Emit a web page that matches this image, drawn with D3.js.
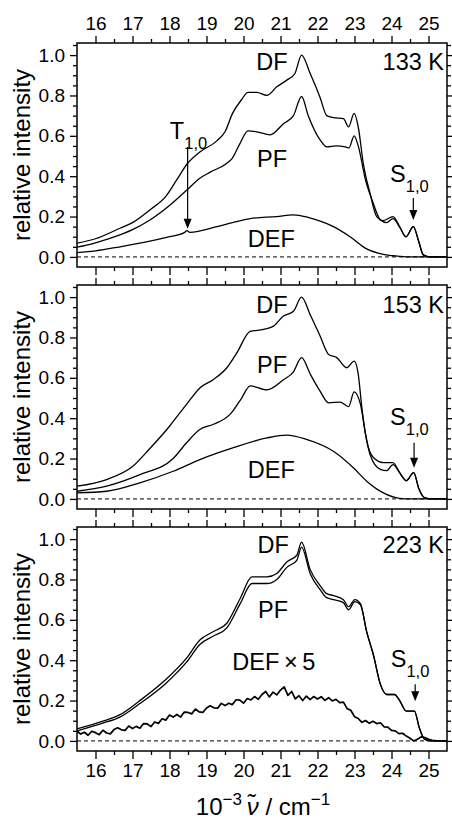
<!DOCTYPE html>
<html><head><meta charset="utf-8">
<script src="https://cdn.jsdelivr.net/npm/d3@7"></script>
<style>
body{margin:0;background:#fff;}
svg{display:block;font-family:"Liberation Sans",Arial,sans-serif;}
</style></head>
<body><svg id="c" width="452" height="822"></svg>
<script>
// ---------- data ----------
const xTicks = [16,17,18,19,20,21,22,23,24,25];
const yTicks = [0,0.2,0.4,0.6,0.8,1.0];
const temps = ["133 K","153 K","223 K"];

const df133 = [[15.5,0.068],[16.0,0.09],[16.66,0.142],[17.0,0.17],[17.47,0.233],[17.9,0.30],[18.19,0.38],[18.49,0.464],[18.82,0.52],[19.28,0.575],[19.5,0.62],[19.7,0.71],[19.95,0.78],[20.12,0.815],[20.36,0.815],[20.63,0.80],[20.9,0.843],[21.17,0.876],[21.39,0.909],[21.57,1.0],[21.8,0.91],[22.07,0.79],[22.25,0.70],[22.43,0.69],[22.7,0.685],[22.84,0.645],[22.99,0.711],[23.1,0.645],[23.24,0.46],[23.42,0.315],[23.6,0.2],[23.78,0.18],[24.04,0.2],[24.22,0.15],[24.39,0.1],[24.59,0.15],[24.73,0.08],[24.86,0.01],[25.04,0.0],[25.5,0.0]];
const pf133 = [[15.5,0.048],[16.0,0.07],[16.66,0.109],[17.0,0.135],[17.47,0.183],[18.0,0.255],[18.46,0.33],[18.82,0.39],[19.1,0.42],[19.55,0.464],[19.7,0.49],[19.9,0.56],[20.12,0.625],[20.36,0.62],[20.72,0.605],[21.08,0.66],[21.35,0.70],[21.57,0.795],[21.75,0.70],[22.07,0.58],[22.25,0.545],[22.5,0.55],[22.75,0.545],[22.85,0.54],[22.99,0.60],[23.1,0.55],[23.3,0.38],[23.48,0.28],[23.7,0.183],[23.87,0.17],[24.04,0.19],[24.22,0.148],[24.39,0.1],[24.59,0.15],[24.73,0.08],[24.86,0.01],[25.04,0],[25.5,0]];
const def133 = [[15.5,0.021],[16.0,0.03],[16.66,0.05],[17.47,0.078],[18.0,0.1],[18.4,0.12],[18.47,0.13],[18.55,0.122],[19.28,0.15],[19.7,0.17],[20.18,0.19],[20.9,0.2],[21.35,0.208],[21.7,0.198],[21.97,0.183],[22.43,0.15],[22.88,0.1],[23.33,0.04],[23.78,0.013],[24.22,0.003],[24.5,0],[25.5,0]];

const df153 = [[15.5,0.063],[16.3,0.096],[17.0,0.16],[17.47,0.25],[18.0,0.36],[18.19,0.405],[18.46,0.468],[18.82,0.55],[19.19,0.592],[19.55,0.65],[19.82,0.724],[20.18,0.83],[20.54,0.84],[20.81,0.856],[21.08,0.906],[21.35,0.93],[21.57,1.0],[21.8,0.914],[22.07,0.807],[22.3,0.716],[22.52,0.70],[22.79,0.65],[22.99,0.683],[23.1,0.62],[23.2,0.45],[23.33,0.287],[23.51,0.205],[23.78,0.18],[24.04,0.18],[24.22,0.13],[24.4,0.09],[24.6,0.13],[24.74,0.05],[24.9,0.005],[25.1,0],[25.5,0]];
const pf153 = [[15.5,0.038],[16.3,0.063],[17.2,0.12],[18.1,0.2],[18.46,0.278],[18.82,0.344],[19.19,0.37],[19.64,0.42],[19.73,0.44],[19.95,0.50],[20.18,0.56],[20.63,0.54],[21.08,0.59],[21.35,0.63],[21.57,0.70],[21.8,0.62],[22.07,0.534],[22.3,0.476],[22.61,0.48],[22.84,0.457],[22.99,0.53],[23.16,0.47],[23.3,0.32],[23.42,0.22],[23.7,0.146],[23.87,0.14],[24.04,0.17],[24.22,0.13],[24.4,0.09],[24.6,0.13],[24.74,0.05],[24.9,0.005],[25.1,0],[25.5,0]];
const def153 = [[15.5,0.03],[16.3,0.038],[17.2,0.08],[18.1,0.137],[18.82,0.195],[19.73,0.254],[20.63,0.302],[21.17,0.316],[21.7,0.295],[22.43,0.236],[22.97,0.154],[23.33,0.088],[23.78,0.03],[24.22,0.003],[24.5,0],[25.5,0]];

const df223 = [[15.5,0.06],[16.2,0.098],[16.66,0.13],[17.2,0.2],[17.9,0.304],[18.46,0.41],[18.82,0.5],[19.19,0.542],[19.55,0.583],[19.91,0.706],[20.23,0.813],[20.63,0.813],[20.9,0.83],[21.17,0.887],[21.44,0.92],[21.57,0.985],[21.8,0.85],[22.07,0.77],[22.25,0.73],[22.43,0.72],[22.7,0.70],[22.84,0.665],[23.01,0.70],[23.16,0.68],[23.33,0.54],[23.51,0.427],[23.7,0.28],[23.87,0.23],[24.08,0.23],[24.22,0.2],[24.4,0.148],[24.62,0.148],[24.75,0.066],[24.9,0.008],[25.1,0],[25.5,0]];
const pf223 = [[15.5,0.05],[16.2,0.088],[16.66,0.118],[17.2,0.185],[17.9,0.285],[18.46,0.39],[18.82,0.478],[19.19,0.52],[19.55,0.56],[19.91,0.68],[20.23,0.78],[20.63,0.78],[20.9,0.80],[21.17,0.86],[21.44,0.895],[21.57,0.96],[21.8,0.83],[22.07,0.75],[22.25,0.71],[22.43,0.70],[22.7,0.685],[22.84,0.65],[23.01,0.69],[23.16,0.675],[23.33,0.54],[23.51,0.427],[23.7,0.28],[23.87,0.23],[24.08,0.23],[24.22,0.2],[24.4,0.148],[24.62,0.148],[24.75,0.066],[24.9,0.008],[25.1,0],[25.5,0]];
const def223x5V = [15.5,15.6,15.7,15.8,15.9,16.0,16.1,16.2,16.3,16.4,16.5,16.6,16.7,16.8,16.9,17.0,17.1,17.2,17.3,17.4,17.5,17.6,17.7,17.8,17.9,18.0,18.1,18.2,18.3,18.4,18.5,18.6,18.7,18.8,18.9,19.0,19.1,19.2,19.3,19.4,19.5,19.6,19.7,19.8,19.9,20.0,20.1,20.2,20.3,20.4,20.5,20.6,20.7,20.8,20.9,21.0,21.1,21.2,21.3,21.4,21.5,21.6,21.7,21.8,21.9,22.0,22.1,22.2,22.3,22.4,22.5,22.6,22.7,22.8,22.9,23.0,23.1,23.2,23.3,23.4,23.5,23.6,23.7,23.8,23.9,24.0,24.1,24.2,24.3,24.4,24.5,24.6,24.7,24.8,24.9,25.0,25.1,25.2,25.3,25.4,25.5];
const def223x5 = [0.048,0.034,0.043,0.028,0.048,0.041,0.031,0.053,0.039,0.035,0.056,0.065,0.055,0.052,0.074,0.061,0.072,0.063,0.086,0.084,0.071,0.094,0.087,0.110,0.103,0.128,0.118,0.131,0.118,0.143,0.141,0.134,0.158,0.144,0.141,0.163,0.174,0.164,0.162,0.186,0.175,0.187,0.180,0.204,0.202,0.187,0.210,0.203,0.220,0.206,0.230,0.245,0.218,0.242,0.228,0.252,0.268,0.226,0.245,0.208,0.224,0.200,0.222,0.205,0.220,0.208,0.219,0.201,0.214,0.198,0.206,0.190,0.192,0.160,0.152,0.120,0.111,0.092,0.101,0.087,0.097,0.086,0.090,0.070,0.068,0.052,0.050,0.036,0.038,0.024,0.013,0.000,0.008,0.020,0.017,0.008,0.003,0.001,0,0,0];

// labels: [text, v, value, anchor]
const labels133 = [["DF",20.77,0.926,"middle"],["PF",20.77,0.447,"middle"],["DEF",20.75,0.051,"middle"]];
const labels153 = [["DF",20.77,0.92,"middle"],["PF",20.77,0.622,"middle"],["DEF",20.75,0.102,"middle"]];
const labels223 = [["DF",20.8,0.93,"middle"],["PF",20.8,0.607,"middle"],["DEF\u2009\u00d7\u20095",20.82,0.351,"middle"]];
// subscripted labels: [main, sub, v, value]
const subLabels133 = [["T","1,0",18.01,0.584],["S","1,0",23.96,0.373]];
const subLabels153 = [["S","1,0",23.96,0.366]];
const subLabels223 = [["S","1,0",23.98,0.368]];
// arrows: [v, fromValue, toValue]
const arrows133 = [[18.49,0.545,0.14],[24.59,0.292,0.183]];
const arrows153 = [[24.61,0.278,0.154]];
const arrows223 = [[24.64,0.281,0.197]];

// ---------- layout ----------
const svg = d3.select("#c");
const L = 77, R = 447, H = 224;
const panelTops = [43, 285, 527];
const x = d3.scaleLinear().domain([15.5,25.5]).range([L,R]);
const xMinor = d3.range(15.5,25.51,0.5).filter(v=>Math.abs(v-Math.round(v))>0.01 && v>15.6 && v<25.4);
const yMinor = d3.range(0,1.051,0.05).filter(v=>Math.abs(v*5-Math.round(v*5))>0.01);
const FS_TICK = 19, FS_LAB = 23.5, FS_SUB = 16.5;

const panels = [
  {series:[df133,pf133,def133], labels:labels133, subs:subLabels133, arrows:arrows133},
  {series:[df153,pf153,def153], labels:labels153, subs:subLabels153, arrows:arrows153},
  {series:[df223,pf223,def223x5V.map((v,i)=>[v,def223x5[i]])], labels:labels223, subs:subLabels223, arrows:arrows223, noisy:true}
];

panels.forEach((p,i)=>{
  const top = panelTops[i], bot = top+H;
  const y = d3.scaleLinear().domain([-0.05,1.06]).range([bot,top]);
  const g = svg.append("g");
  const clipId = "clip"+i;
  svg.append("clipPath").attr("id",clipId).append("rect").attr("x",L).attr("y",top).attr("width",R-L).attr("height",H);

  // zero line
  g.append("line").attr("x1",L).attr("x2",R).attr("y1",y(0)).attr("y2",y(0))
    .attr("stroke","#000").attr("stroke-width",1).attr("stroke-dasharray","4,3");

  // curves
  const line = d3.line().x(d=>x(d[0])).y(d=>y(d[1])).curve(d3.curveMonotoneX);
  const lineLin = d3.line().x(d=>x(d[0])).y(d=>y(d[1]));
  p.series.forEach((s,k)=>{
    const noisy = p.noisy && k===2;
    g.append("path").attr("clip-path",`url(#${clipId})`).attr("d",noisy?lineLin(s):line(s))
      .attr("fill","none").attr("stroke","#000").attr("stroke-width",noisy?1.7:1.3)
      .attr("stroke-linejoin","round");
  });

  // frame
  g.append("rect").attr("x",L).attr("y",top).attr("width",R-L).attr("height",H)
    .attr("fill","none").attr("stroke","#000").attr("stroke-width",1.5);

  // axes
  const styleAx = sel => { sel.select(".domain").remove(); sel.selectAll("line").attr("stroke","#000").attr("stroke-width",1.3); sel.selectAll("text").attr("fill","#000").attr("font-family","Liberation Sans, Arial, sans-serif"); };
  g.append("g").attr("transform",`translate(${L},0)`).call(d3.axisLeft(y).tickValues(yTicks).tickSize(7).tickPadding(5).tickFormat(d3.format(".1f")))
    .call(styleAx).selectAll("text").attr("font-size",FS_TICK);
  g.append("g").attr("transform",`translate(${L},0)`).call(d3.axisLeft(y).tickValues(yMinor).tickSize(4).tickFormat("")).call(styleAx);
  g.append("g").attr("transform",`translate(${R},0)`).call(d3.axisLeft(y).tickValues(yTicks).tickSize(-6).tickFormat("")).call(styleAx);
  g.append("g").attr("transform",`translate(${R},0)`).call(d3.axisLeft(y).tickValues(yMinor).tickSize(-4).tickFormat("")).call(styleAx);
  g.append("g").attr("transform",`translate(0,${top})`).call(d3.axisTop(x).tickValues(xTicks).tickSize(7).tickPadding(6).tickFormat(i===0?d3.format("d"):""))
    .call(styleAx).selectAll("text").attr("font-size",FS_TICK);
  g.append("g").attr("transform",`translate(0,${top})`).call(d3.axisTop(x).tickValues(xMinor).tickSize(4).tickFormat("")).call(styleAx);
  g.append("g").attr("transform",`translate(0,${bot})`).call(d3.axisBottom(x).tickValues(xTicks).tickSize(8).tickPadding(5).tickFormat(i===2?d3.format("d"):""))
    .call(styleAx).selectAll("text").attr("font-size",FS_TICK);
  g.append("g").attr("transform",`translate(0,${bot})`).call(d3.axisBottom(x).tickValues(xMinor).tickSize(4).tickFormat("")).call(styleAx);

  // y title
  g.append("text").attr("transform",`translate(30,${(top+bot)/2}) rotate(-90)`).attr("text-anchor","middle")
    .attr("font-size",24).text("relative intensity");

  // temperature label
  g.append("text").attr("x",444).attr("y",y(p.labels[0][2])).attr("text-anchor","end").attr("font-size",FS_LAB).text(temps[i]);

  p.labels.forEach(l=>{
    g.append("text").attr("x",x(l[1])).attr("y",y(l[2])).attr("text-anchor",l[3]).attr("font-size",FS_LAB).text(l[0]);
  });
  p.subs.forEach(s=>{
    const t = g.append("text").attr("x",x(s[2])).attr("y",y(s[3])).attr("font-size",FS_LAB);
    t.append("tspan").text(s[0]);
    t.append("tspan").attr("dy",10).attr("font-size",FS_SUB).text(s[1]);
  });
  p.arrows.forEach(a=>{
    const ax = x(a[0]), y1 = y(a[1]), y2 = y(a[2]);
    g.append("line").attr("x1",ax).attr("x2",ax).attr("y1",y1).attr("y2",y2-8).attr("stroke","#000").attr("stroke-width",1.2);
    g.append("path").attr("d",`M${ax-4},${y2-10}L${ax+4},${y2-10}L${ax},${y2}Z`).attr("fill","#000");
  });
});

// x title
const xt = svg.append("text").attr("x",263).attr("y",815).attr("text-anchor","middle").attr("font-size",24);
xt.append("tspan").text("10");
xt.append("tspan").attr("dy",-10).attr("font-size",17).text("\u22123");
xt.append("tspan").attr("dy",10).text("\u2009");
xt.append("tspan").attr("font-style","italic").text("\u03bd\u0303");
xt.append("tspan").text(" / cm");
xt.append("tspan").attr("dy",-10).attr("font-size",17).text("\u22121");
</script></body></html>
